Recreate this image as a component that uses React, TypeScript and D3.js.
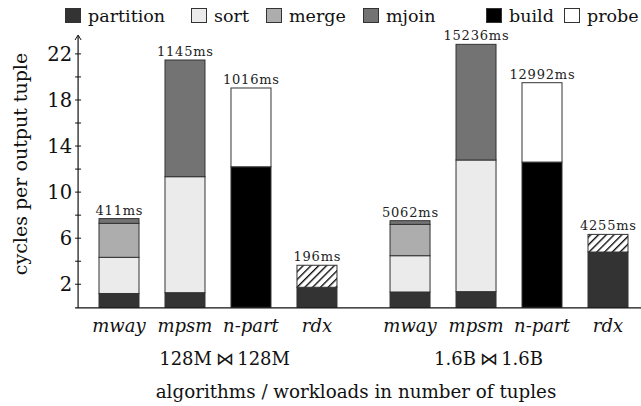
import * as d3 from "d3";

// bars: two workloads x four algorithms
const algorithms = ["mway", "mpsm", "n-part", "rdx"];
const workloads = ["128M\u2009\u22c8\u2009128M", "1.6B\u2009\u22c8\u20091.6B"];
const runtimes = ["411ms", "1145ms", "1016ms", "196ms", "5062ms", "15236ms", "12992ms", "4255ms"];

// segment heights (cycles per output tuple)
const partition = [1.2, 1.27, 0, 1.74, 1.33, 1.36, 0, 4.8];
const sort = [3.14, 10.07, 0, 0, 3.15, 11.43, 0, 0];
const merge = [2.95, 0, 0, 0, 2.72, 0, 0, 0];
const mjoin = [0.41, 10.13, 0, 0, 0.32, 10.04, 0, 0];
const build = [0, 0, 12.2, 0, 0, 0, 12.61, 0];
const probe = [0, 0, 6.84, 0, 0, 0, 6.89, 0];
const rdxJoin = [0, 0, 0, 1.91, 0, 0, 0, 1.53];

const yTicks = [2, 6, 10, 14, 18, 22];
const legendKeys = ["partition", "sort", "merge", "mjoin", "build", "probe"];

const W = 641;
const H = 406;
const font = '"DejaVu Serif", "Liberation Serif", serif';

const fills: Record<string, string> = {
  partition: "#333333",
  sort: "#ebebeb",
  merge: "#adadad",
  mjoin: "#737373",
  build: "#000000",
  probe: "#ffffff",
  rdxJoin: "url(#hatch)",
};

// x positions in axis units: groups are 1..4 and 5.41..8.41
const barPos = algorithms
  .map((_, i) => i + 1)
  .concat(algorithms.map((_, i) => i + 5.41));
const groupPos = [2.6, 6.6];
const legendX = [65, 191, 266, 363, 486, 564];

const App = () => {
  const x = d3.scaleLinear([1, 8.41], [119, 608]);
  const y = d3.scaleLinear([0, 22], [307.3, 53.9]);
  const barW = 40;

  const rows = barPos.map((p, i) => ({
    pos: p,
    partition: partition[i],
    sort: sort[i],
    merge: merge[i],
    mjoin: mjoin[i],
    build: build[i],
    probe: probe[i],
    rdxJoin: rdxJoin[i],
  }));
  const keys = ["partition", "sort", "merge", "mjoin", "build", "probe", "rdxJoin"];
  const series = d3.stack<any>().keys(keys)(rows);
  const totals = rows.map((r) => keys.reduce((s, k) => s + (r as any)[k], 0));

  const minor = d3.range(2, 24, 2);
  const axisX = x(0.38);
  const txt = { fontFamily: font };

  return (
    <svg width={W} height={H} style={{ position: "absolute", left: 0, top: 0, background: "#fff" }}>
      <defs>
        <pattern id="hatch" patternUnits="userSpaceOnUse" width="5.5" height="5.5" patternTransform="rotate(45)">
          <rect width="5.5" height="5.5" fill="#fff" />
          <line x1="0.7" y1="0" x2="0.7" y2="5.5" stroke="#000" strokeWidth="1.3" />
        </pattern>
      </defs>

      {/* legend */}
      {legendKeys.map((k, i) => (
        <g key={k} transform={`translate(${legendX[i]},8)`}>
          <rect x={0.5} y={0.5} width={15} height={14} fill={fills[k]} stroke="#333" />
          <text x={23} y={14} fontSize={17.5} fill="#111" style={txt}>
            {k}
          </text>
        </g>
      ))}

      {/* bars */}
      {series.map((s) =>
        s.map((d, i) =>
          d[1] - d[0] > 0 ? (
            <rect
              key={s.key + i}
              x={x(rows[i].pos) - barW / 2}
              y={y(d[1])}
              width={barW}
              height={y(d[0]) - y(d[1])}
              fill={fills[s.key]}
              stroke="#333"
              strokeWidth={1}
            />
          ) : null
        )
      )}

      {/* runtime labels */}
      {rows.map((r, i) => (
        <text
          key={"t" + i}
          x={x(r.pos) + 0.4}
          y={y(totals[i]) - 4}
          textAnchor="middle"
          fontSize={13}
          letterSpacing={0.8}
          fill="#222"
          style={txt}
        >
          {runtimes[i]}
        </text>
      ))}

      {/* axes */}
      <line x1={axisX - 3} x2={W} y1={y(0) + 0.5} y2={y(0) + 0.5} stroke="#111" strokeWidth={1.2} />
      <line x1={axisX} x2={axisX} y1={y(0) + 0.5} y2={36} stroke="#111" strokeWidth={1.2} />
      <path d={`M${axisX - 3},40 L${axisX},35 L${axisX + 3},40`} fill="none" stroke="#111" strokeWidth={1} />
      {minor.map((t) => (
        <line key={"m" + t} x1={axisX - 3} x2={axisX + 3} y1={y(t)} y2={y(t)} stroke="#111" strokeWidth={1} />
      ))}
      {yTicks.map((t) => (
        <text key={"y" + t} x={axisX - 6} y={y(t)} dy="0.36em" textAnchor="end" fontSize={19.5} fill="#111" style={txt}>
          {t}
        </text>
      ))}
      <text
        transform={`translate(27,${164}) rotate(-90)`}
        textAnchor="middle"
        fontSize={19}
        fill="#111"
        style={txt}
      >
        cycles per output tuple
      </text>

      {/* category labels */}
      {rows.map((r, i) => (
        <text
          key={"c" + i}
          x={x(r.pos)}
          y={332}
          textAnchor="middle"
          fontSize={18}
          fontStyle="italic"
          fill="#111"
          style={txt}
        >
          {algorithms[i % algorithms.length]}
        </text>
      ))}
      {workloads.map((w, i) => (
        <text key={"w" + i} x={x(groupPos[i])} y={365} textAnchor="middle" fontSize={18} fill="#111" style={txt}>
          {w}
        </text>
      ))}
      <text x={356} y={398} textAnchor="middle" fontSize={18.3} fill="#111" style={txt}>
        algorithms / workloads in number of tuples
      </text>
    </svg>
  );
};

export default App;
